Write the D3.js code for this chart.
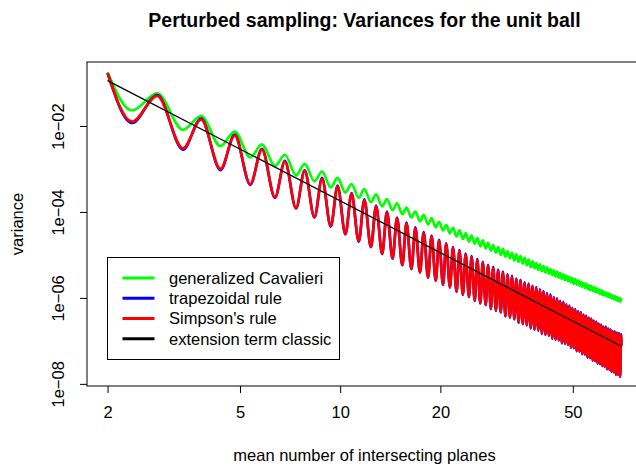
<!DOCTYPE html>
<html>
<head>
<meta charset="utf-8">
<script src="https://cdn.jsdelivr.net/npm/d3@7"></script>
<style>
  body { margin: 0; background: #fff; }
  svg { display: block; }
  text { font-family: "Liberation Sans", Arial, Helvetica, sans-serif; fill: #000; }
</style>
</head>
<body>
<svg id="chart" width="636" height="466"></svg>
<script>
// ---- data ----
// every curve oscillates once per unit of n: trough near n = k + 0.37, peak near n = k + 0.82
const periods = [2,3,4,5,6,7,8,9,10,11,12,13,14,15,16,17,18,19,20,21,22,23,24,25,26,27,28,29,30,
  31,32,33,34,35,36,37,38,39,40,41,42,43,44,45,46,47,48,49,50,51,52,53,54,55,56,57,58,59,60,
  61,62,63,64,65,66,67,68,69];
const troughPhase = 0.37;
const peakPhase = 0.82;
const nFirst = 2, nLast = 70;

// variances are given as log10 values (read in decades on the log axis)
const cavalieriStart = -0.75, cavalieriEnd = -6.05;
const cavalieriTroughs = [-1.64,-2.09,-2.47,-2.73,-2.93,-3.15,-3.29,-3.43,-3.55,-3.67,-3.77,-3.87,-3.96,-4.05,
  -4.13,-4.22,-4.29,-4.36,-4.43,-4.50,-4.57,-4.63,-4.69,-4.74,-4.80,-4.85,-4.90,-4.95,-5.00,-5.04,-5.08,
  -5.13,-5.16,-5.20,-5.24,-5.28,-5.31,-5.35,-5.38,-5.41,-5.44,-5.47,-5.50,-5.53,-5.56,-5.59,-5.61,-5.64,
  -5.67,-5.69,-5.72,-5.74,-5.77,-5.79,-5.82,-5.84,-5.86,-5.88,-5.91,-5.93,-5.95,-5.97,-5.99,-6.01,-6.03,
  -6.05,-6.07,-6.09];
const cavalieriPeaks = [-1.24,-1.77,-2.13,-2.43,-2.67,-2.88,-3.06,-3.21,-3.35,-3.47,-3.59,-3.70,-3.80,-3.90,
  -3.99,-4.07,-4.15,-4.23,-4.30,-4.37,-4.43,-4.49,-4.55,-4.61,-4.66,-4.72,-4.77,-4.82,-4.86,-4.91,-4.95,
  -4.99,-5.03,-5.07,-5.11,-5.15,-5.19,-5.22,-5.26,-5.29,-5.33,-5.36,-5.39,-5.42,-5.45,-5.48,-5.51,-5.54,
  -5.56,-5.59,-5.62,-5.65,-5.67,-5.70,-5.72,-5.75,-5.77,-5.80,-5.82,-5.85,-5.87,-5.89,-5.91,-5.94,-5.96,
  -5.98,-6.00,-6.02];

const trapezoidStart = -0.77, trapezoidEnd = -7.11;
const trapezoidTroughs = [-1.93,-2.55,-3.03,-3.37,-3.67,-3.92,-4.13,-4.34,-4.52,-4.69,-4.82,-4.98,-5.09,-5.24,
  -5.33,-5.41,-5.53,-5.60,-5.70,-5.76,-5.86,-5.93,-5.98,-6.07,-6.13,-6.17,-6.26,-6.30,-6.34,-6.43,-6.46,
  -6.50,-6.58,-6.61,-6.64,-6.71,-6.74,-6.76,-6.84,-6.86,-6.88,-6.95,-6.97,-6.99,-7.06,-7.07,-7.09,-7.16,
  -7.17,-7.24,-7.25,-7.31,-7.32,-7.39,-7.40,-7.46,-7.47,-7.53,-7.54,-7.59,-7.60,-7.66,-7.67,-7.72,-7.73,
  -7.79,-7.79,-7.84];
const trapezoidPeaks = [-1.28,-1.83,-2.20,-2.53,-2.81,-3.03,-3.21,-3.39,-3.56,-3.71,-3.85,-3.99,-4.13,-4.25,
  -4.36,-4.47,-4.55,-4.65,-4.73,-4.82,-4.89,-4.97,-5.03,-5.10,-5.16,-5.23,-5.28,-5.34,-5.39,-5.45,-5.49,
  -5.55,-5.58,-5.64,-5.67,-5.72,-5.75,-5.80,-5.84,-5.89,-5.92,-5.98,-6.01,-6.07,-6.09,-6.15,-6.18,-6.23,
  -6.26,-6.31,-6.33,-6.39,-6.41,-6.46,-6.48,-6.53,-6.55,-6.60,-6.62,-6.67,-6.67,-6.71,-6.73,-6.77,-6.78,
  -6.81,-6.82,-6.85];

const simpsonStart = -0.77, simpsonEnd = -7.10;
const simpsonTroughs = [-1.90,-2.52,-3.00,-3.35,-3.66,-3.91,-4.12,-4.33,-4.51,-4.68,-4.81,-4.97,-5.08,-5.23,
  -5.32,-5.40,-5.52,-5.59,-5.69,-5.75,-5.85,-5.92,-5.97,-6.06,-6.12,-6.16,-6.25,-6.29,-6.33,-6.42,-6.45,
  -6.49,-6.57,-6.60,-6.63,-6.70,-6.73,-6.75,-6.83,-6.85,-6.87,-6.94,-6.96,-6.98,-7.05,-7.06,-7.08,-7.15,
  -7.16,-7.23,-7.24,-7.30,-7.31,-7.38,-7.39,-7.45,-7.46,-7.52,-7.53,-7.58,-7.59,-7.65,-7.66,-7.71,-7.72,
  -7.78,-7.78,-7.83];
const simpsonPeaks = [-1.30,-1.85,-2.22,-2.55,-2.83,-3.05,-3.23,-3.41,-3.58,-3.73,-3.87,-4.01,-4.15,-4.27,
  -4.38,-4.49,-4.57,-4.67,-4.75,-4.84,-4.91,-4.99,-5.05,-5.12,-5.18,-5.25,-5.30,-5.36,-5.41,-5.47,-5.51,
  -5.57,-5.60,-5.66,-5.69,-5.74,-5.77,-5.82,-5.86,-5.91,-5.94,-6.00,-6.03,-6.09,-6.11,-6.17,-6.20,-6.25,
  -6.28,-6.33,-6.35,-6.41,-6.43,-6.48,-6.50,-6.55,-6.57,-6.62,-6.64,-6.69,-6.69,-6.73,-6.75,-6.79,-6.80,
  -6.83,-6.84,-6.87];

// extension term (straight line on log-log axes)
const classicN = [2, 70];
const classicLog = [-0.946, -7.126];

const xTicks = [2, 5, 10, 20, 50];
const yTicks = [1e-8, 1e-6, 1e-4, 1e-2];
const yTickLabels = ["1e\u221208", "1e\u221206", "1e\u221204", "1e\u221202"];

const seriesNames = ["generalized Cavalieri", "trapezoidal rule", "Simpson's rule", "extension term classic"];
const seriesColors = ["#00ff00", "#0000ff", "#ff0000", "#000000"];

// ---- layout ----
const svg = d3.select("#chart");
const plotLeft = 87, plotRight = 642, plotTop = 62, plotBottom = 386;

// R style: x range padded by 4% of the log range each side
const lx0 = Math.log10(nFirst), lx1 = Math.log10(nLast);
const pad = (lx1 - lx0) * 0.04;
const x = d3.scaleLog().domain([Math.pow(10, lx0 - pad), Math.pow(10, lx1 + pad)]).range([plotLeft, plotRight]);
const y = d3.scaleLog().domain([Math.pow(10, -8.05), Math.pow(10, -0.512)]).range([plotBottom, plotTop]);

function buildSeries(start, troughs, peaks, end) {
  const pts = [{ n: nFirst, v: Math.pow(10, start) }];
  periods.forEach(function (k, i) {
    pts.push({ n: k + troughPhase, v: Math.pow(10, troughs[i]) });
    pts.push({ n: k + peakPhase, v: Math.pow(10, peaks[i]) });
  });
  pts.push({ n: nLast, v: Math.pow(10, end) });
  return pts;
}

const series = [
  buildSeries(cavalieriStart, cavalieriTroughs, cavalieriPeaks, cavalieriEnd),
  buildSeries(trapezoidStart, trapezoidTroughs, trapezoidPeaks, trapezoidEnd),
  buildSeries(simpsonStart, simpsonTroughs, simpsonPeaks, simpsonEnd)
];
const classic = classicN.map(function (n, i) { return { n: n, v: Math.pow(10, classicLog[i]) }; });

svg.append("defs").append("clipPath").attr("id", "plotclip")
  .append("rect").attr("x", plotLeft).attr("y", plotTop)
  .attr("width", plotRight - plotLeft).attr("height", plotBottom - plotTop);

const line = d3.line()
  .x(function (d) { return x(d.n); })
  .y(function (d) { return y(d.v); })
  .curve(d3.curveMonotoneX);

const plot = svg.append("g").attr("clip-path", "url(#plotclip)");
series.forEach(function (s, i) {
  plot.append("path")
    .attr("d", line(s))
    .attr("fill", "none")
    .attr("stroke", seriesColors[i])
    .attr("stroke-width", 2.7)
    .attr("stroke-linejoin", "round");
});
plot.append("path")
  .attr("d", d3.line().x(function (d) { return x(d.n); }).y(function (d) { return y(d.v); })(classic))
  .attr("fill", "none")
  .attr("stroke", "#000")
  .attr("stroke-width", 1.3);

// box
svg.append("rect")
  .attr("x", plotLeft).attr("y", plotTop)
  .attr("width", plotRight - plotLeft).attr("height", plotBottom - plotTop)
  .attr("fill", "none").attr("stroke", "#000").attr("stroke-width", 1);

// x axis
const xAxis = svg.append("g").attr("transform", "translate(0," + plotBottom + ")")
  .call(d3.axisBottom(x).tickValues(xTicks).tickFormat(d3.format("d")).tickSize(7).tickPadding(13));
xAxis.select(".domain").remove();
xAxis.selectAll("text").attr("font-size", 16.5).attr("font-family", null);

// y axis (labels rotated, as in base R)
const yAxis = svg.append("g").attr("transform", "translate(" + plotLeft + ",0)")
  .call(d3.axisLeft(y).tickValues(yTicks).tickFormat(function (d, i) { return yTickLabels[i]; }).tickSize(7));
yAxis.select(".domain").remove();
yAxis.selectAll("text")
  .attr("font-family", null)
  .attr("font-size", 16.5)
  .attr("x", null).attr("dy", null)
  .attr("text-anchor", "middle")
  .attr("transform", "translate(-23.5,0) rotate(-90)");

// titles
svg.append("text")
  .attr("x", (plotLeft + plotRight) / 2).attr("y", 27)
  .attr("text-anchor", "middle")
  .attr("font-size", 19.5).attr("font-weight", "bold")
  .text("Perturbed sampling: Variances for the unit ball");
svg.append("text")
  .attr("x", (plotLeft + plotRight) / 2).attr("y", 461)
  .attr("text-anchor", "middle")
  .attr("font-size", 16.5)
  .text("mean number of intersecting planes");
svg.append("text")
  .attr("transform", "translate(23," + (plotTop + plotBottom) / 2 + ") rotate(-90)")
  .attr("text-anchor", "middle")
  .attr("font-size", 16.5)
  .text("variance");

// legend
const legend = svg.append("g");
legend.append("rect")
  .attr("x", 107.5).attr("y", 257.5).attr("width", 232).attr("height", 102)
  .attr("fill", "#fff").attr("stroke", "#000").attr("stroke-width", 1);
const rows = legend.selectAll("g.row").data(seriesNames).join("g")
  .attr("class", "row")
  .attr("transform", function (d, i) { return "translate(0," + (278 + i * 20.25) + ")"; });
rows.append("line")
  .attr("x1", 122.5).attr("x2", 154.5)
  .attr("stroke", function (d, i) { return seriesColors[i]; })
  .attr("stroke-width", 2.8);
rows.append("text")
  .attr("x", 169).attr("dy", "0.36em")
  .attr("font-size", 16.5)
  .text(function (d) { return d; });
</script>
</body>
</html>
